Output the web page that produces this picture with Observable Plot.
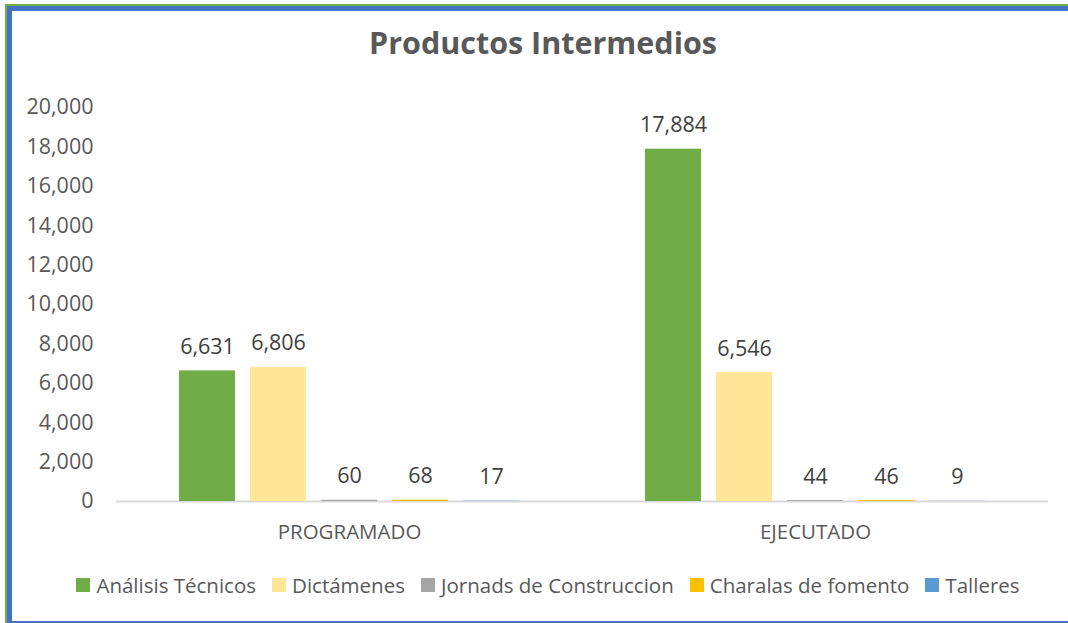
<!DOCTYPE html>
<html>
<head>
<meta charset="utf-8">
<script src="https://cdn.jsdelivr.net/npm/d3@7"></script>
<script src="https://cdn.jsdelivr.net/npm/@observablehq/plot@0.6"></script>
<style>
  html, body { margin: 0; padding: 0; background: #fff; overflow: hidden; }
  body { width: 1068px; height: 623px; position: relative; font-family: "Open Sans", Lato, sans-serif; }
  .b { position: absolute; }
  #chart { position: absolute; left: 0; top: 0; }
  #title { position: absolute; left: 0; width: 1086px; top: 25px; text-align: center; font-weight: 700; font-size: 30.5px; line-height: 34px; color: #595959; }
  #legend { position: absolute; left: 0; width: 1096px; top: 572px; display: flex; justify-content: center; gap: 16px; font-size: 20.5px; line-height: 26px; color: #595959; }
  .item { display: flex; align-items: center; white-space: nowrap; }
  .sw { width: 14px; height: 14px; margin-right: 6px; display: inline-block; }
</style>
</head>
<body>
<div class="b" style="left:5px;top:4px;width:1063px;height:2px;background:#70AD47"></div>
<div class="b" style="left:5px;top:4px;width:2px;height:619px;background:#70AD47"></div>
<div class="b" style="left:7px;top:6px;width:1061px;height:5px;background:#4472C4"></div>
<div class="b" style="left:7px;top:6px;width:5px;height:617px;background:#4472C4"></div>
<div class="b" style="left:7px;top:621px;width:1061px;height:2px;background:#4472C4"></div>
<div id="chart"></div>
<div id="title">Productos Intermedios</div>
<div id="legend"></div>
<script>
const groups = ["PROGRAMADO", "EJECUTADO"];
const series = ["Análisis Técnicos", "Dictámenes", "Jornads de Construccion", "Charalas de fomento", "Talleres"];
const programado = [6631, 6806, 60, 68, 17];
const ejecutado = [17884, 6546, 44, 46, 9];
const colors = ["#70AD47", "#FFE699", "#A5A5A5", "#FFC000", "#5B9BD5"];
const yTicks = [0, 2000, 4000, 6000, 8000, 10000, 12000, 14000, 16000, 18000, 20000];

const valuesByGroup = [programado, ejecutado];
const data = groups.flatMap((g, gi) => series.map((s, i) => ({group: g, series: s, value: valuesByGroup[gi][i]})));
const fmt = d3.format(",");

const chart = Plot.plot({
  width: 1068,
  height: 560,
  marginLeft: 116,
  marginRight: 20,
  marginTop: 107,
  marginBottom: 59,
  style: {fontFamily: "'Open Sans', Lato, sans-serif", background: "transparent", overflow: "visible"},
  fx: {domain: groups, padding: 0, label: null},
  x: {domain: series, paddingInner: 0.215, paddingOuter: 0.875, axis: null},
  y: {domain: [0, 20000], label: null},
  color: {domain: series, range: colors},
  marks: [
    Plot.axisY({ticks: yTicks, tickFormat: fmt, tickSize: 0, tickPadding: 23, fontSize: 21.5, fill: "#595959", label: null}),
    Plot.axisFx({anchor: "bottom", tickSize: 0, tickPadding: 23, fontSize: 20.5, fill: "#595959", label: null}),
    Plot.ruleY([0], {stroke: "#d9d9d9", strokeWidth: 2}),
    Plot.barY(data, {fx: "group", x: "series", y: "value", fill: "series"}),
    Plot.text(data, {fx: "group", x: "series", y: "value", text: d => fmt(d.value), dy: -17, lineAnchor: "bottom", fontSize: 21.5, fill: "#404040"})
  ]
});
document.getElementById("chart").appendChild(chart);

const legend = document.getElementById("legend");
series.forEach((s, i) => {
  const item = document.createElement("div");
  item.className = "item";
  const sw = document.createElement("span");
  sw.className = "sw";
  sw.style.background = colors[i];
  const t = document.createElement("span");
  t.textContent = s;
  item.appendChild(sw);
  item.appendChild(t);
  legend.appendChild(item);
});
</script>
</body>
</html>
